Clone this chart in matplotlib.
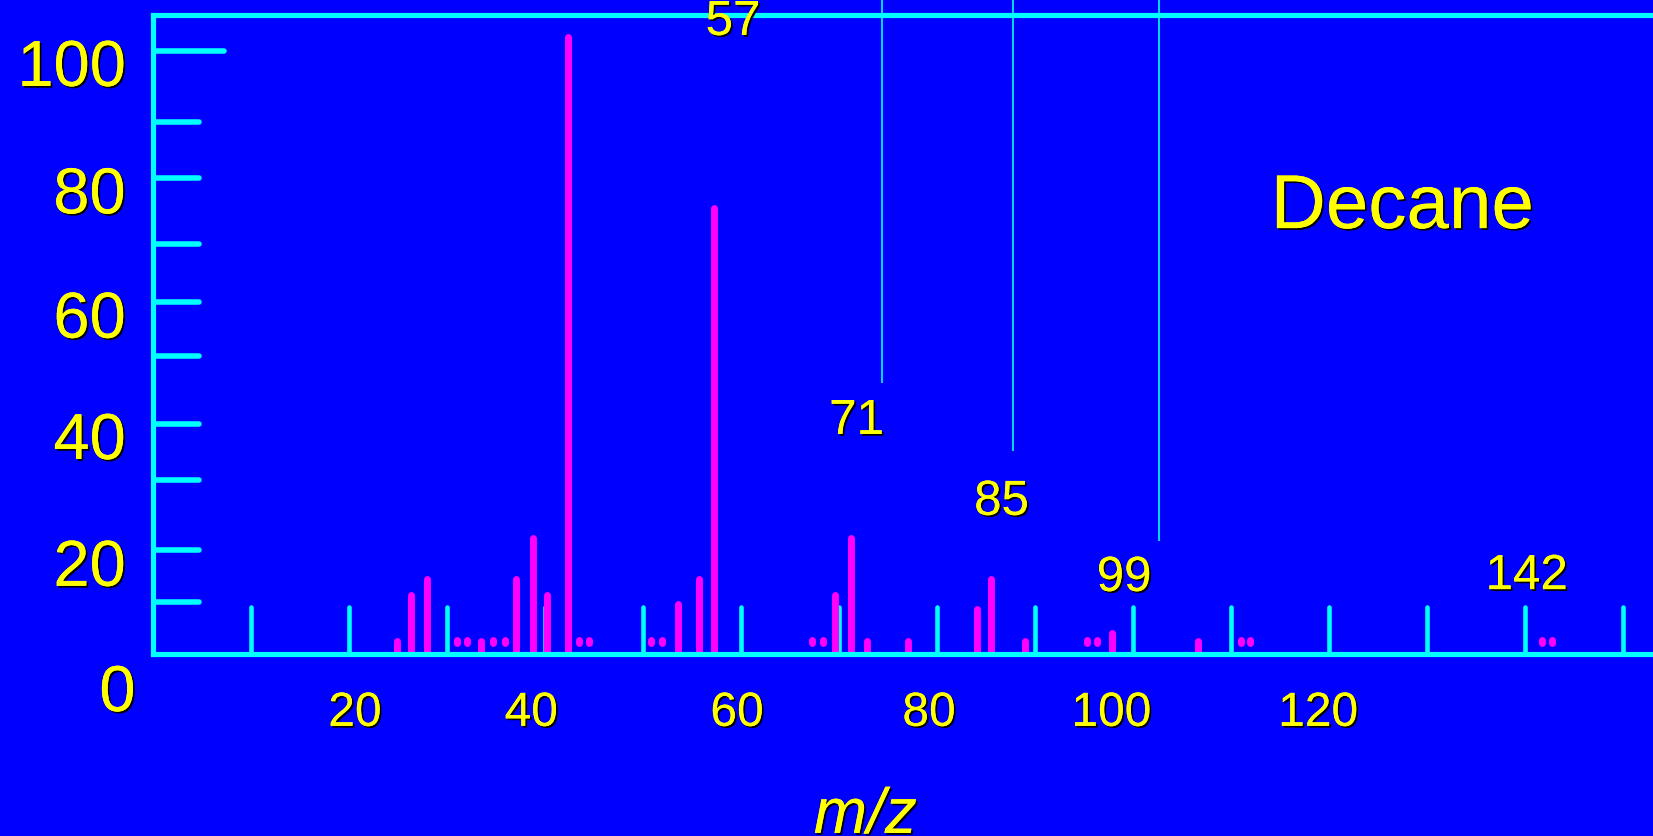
import matplotlib
matplotlib.use("Agg")
import matplotlib.pyplot as plt
import matplotlib.patheffects as pe

BLUE = "#0000ff"
CYAN = "#00ffff"
MAGENTA = "#ff00ff"
YELLOW = "#ffff00"

# fragment peaks, m/z and relative intensity as drawn on the slide
peak_mz = [24.9, 26.3, 28.0, 33.5, 37.0, 38.8, 40.2, 42.4, 53.6, 55.7, 57.3,
           69.6, 71.2, 72.9, 77.1, 84.1, 85.5, 89.0, 97.9, 106.6]
peak_int = [2.2, 9.8, 12.4, 2.2, 12.4, 19.3, 9.8, 102.3, 8.4, 12.4, 74.0,
            9.8, 19.3, 2.2, 2.2, 7.5, 12.4, 2.2, 3.6, 2.2]

# tiny fragments, drawn as little dots just above the axis
dot_mz = [31.0, 32.0, 34.7, 35.9, 43.5, 44.5, 50.8, 51.9, 67.25, 68.4,
          95.3, 96.3, 111.0, 112.0, 141.8, 142.8]
dot_low = 1.95
dot_high = 2.45

# x axis marks (short cyan bars every 10 units) and labels
x_mark_mz = [10, 20, 30, 40, 50, 60, 70, 80, 90, 100, 110, 120, 130, 140, 150]
x_mark_height = 7.8
x_labels = [20, 40, 60, 80, 100, 120]
x_label_at = [20.6, 38.6, 59.6, 79.2, 97.8, 118.9]  # where the slide put them

# y axis marks as drawn (hand placed on the slide), labelled every other one
y_marks = [8.7, 17.2, 28.8, 38.2, 49.4, 58.3, 67.9, 78.9, 88.1, 100]
y_labels = ["", "20", "", "40", "", "60", "", "80", "", "100"]

# peak annotations
peak_labels = ["57", "71", "85", "99", "142"]
peak_label_x = [59.2, 71.8, 86.6, 99.1, 140.2]
peak_label_y = [102.6, 36.5, 23.1, 10.5, 10.8]

# thin leader lines coming down from the top
leader_mz = [74.4, 87.8, 102.7]
leader_end = [45.0, 33.7, 18.8]

plt.rcParams['font.family'] = ['Liberation Sans', 'DejaVu Sans']
shadow = [pe.withSimplePatchShadow(offset=(1.3, -1.3), shadow_rgbFace='black', alpha=1.0),
          pe.Normal()]

fig = plt.figure(figsize=(16.53, 8.36), dpi=100, facecolor=BLUE)
ax = fig.add_axes([0.09256, 0.21734, 0.90744, 0.76495])
ax.set_facecolor(BLUE)
ax.set_xlim(0, 153.08)
ax.set_ylim(0, 105.93)
ax.set_xticks([])
ax.set_yticks([])
for side in ['left', 'top', 'bottom']:
    ax.spines[side].set_color(CYAN)
    ax.spines[side].set_linewidth(3.7)
ax.spines['right'].set_visible(False)

# y tick stubs, the 100 one is longer
stub_len = [4.65] * (len(y_marks) - 1) + [7.27]
ax.hlines(y_marks, 0, stub_len, color=CYAN, lw=4.0, capstyle='round', zorder=1)

ax.vlines(x_mark_mz, 0, x_mark_height, color=CYAN, lw=3.3, capstyle='round', zorder=1)
ax.vlines(peak_mz, 0, peak_int, color=MAGENTA, lw=5.0, capstyle='round', zorder=1.5)
ax.vlines(dot_mz, dot_low, dot_high, color=MAGENTA, lw=5.0, capstyle='round', zorder=1.5)
ax.vlines(leader_mz, leader_end, 108.6, color=CYAN, lw=1.2, clip_on=False, zorder=1)

for y, lab in zip(y_marks, y_labels):
    if lab:
        ax.text(-2.8, y - 5.85, lab, ha='right', va='baseline', fontsize=46.8,
                color=YELLOW, path_effects=shadow)
ax.text(-1.8, -9.4, "0", ha='right', va='baseline', fontsize=46.8,
        color=YELLOW, path_effects=shadow)

for v, x in zip(x_labels, x_label_at):
    ax.text(x, -11.85, str(v), ha='center', va='baseline', fontsize=34.5,
            color=YELLOW, path_effects=shadow)

for lab, x, y in zip(peak_labels, peak_label_x, peak_label_y):
    ax.text(x, y, lab, ha='center', va='baseline', fontsize=35.5,
            color=YELLOW, path_effects=shadow, zorder=5)

ax.text(127.5, 70.6, "Decane", ha='center', va='baseline', fontsize=55,
        color=YELLOW, path_effects=shadow)
ax.text(72.7, -29.6, "m/z", ha='center', va='baseline', fontsize=46,
        style='italic', color=YELLOW, path_effects=shadow)

fig.savefig("out.png", dpi=100, facecolor=BLUE)
